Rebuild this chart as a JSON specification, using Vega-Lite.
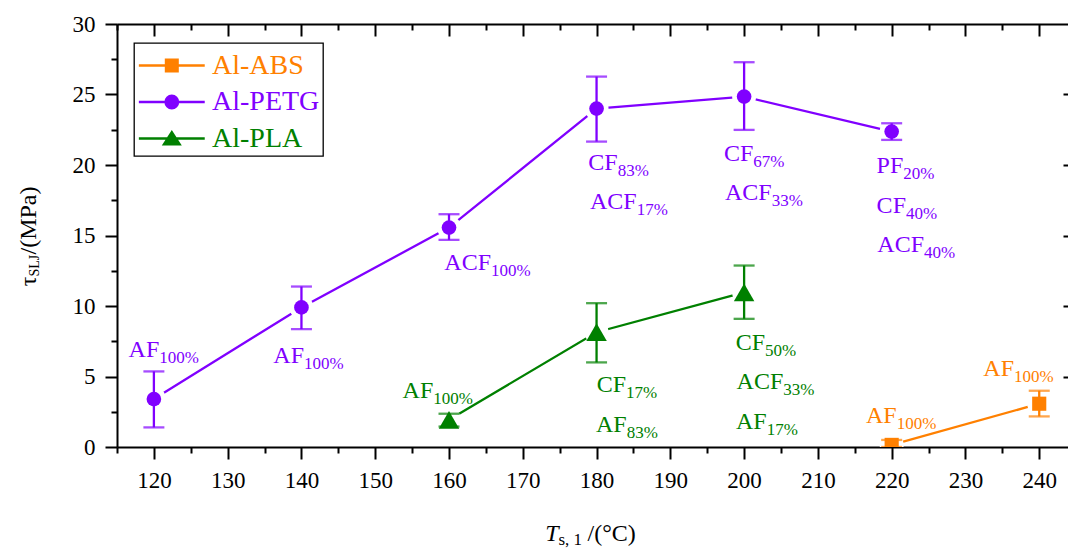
{
  "$schema": "https://vega.github.io/schema/vega-lite/v6.json",
  "width": 951,
  "height": 423,
  "autosize": {"type": "none"},
  "padding": {"left": 117, "top": 24, "right": 0, "bottom": 101},
  "background": "white",
  "config": {
    "view": {"stroke": null},
    "axis": {
      "grid": false,
      "domainColor": "black",
      "domainWidth": 2,
      "tickColor": "black",
      "tickWidth": 2,
      "titleFont": "Liberation Serif",
      "titleFontSize": 24,
      "titleColor": "black",
      "titleFontWeight": "normal",
      "zindex": 1
    }
  },
  "datasets": {
    "pts": [
      {"series": "Al-ABS", "temp": 220, "tau": 0.15, "lo": 0, "hi": 0.5},
      {"series": "Al-ABS", "temp": 240, "tau": 3.07, "lo": 2.17, "hi": 3.99},
      {"series": "Al-PETG", "temp": 120, "tau": 3.4, "lo": 1.39, "hi": 5.36},
      {"series": "Al-PETG", "temp": 140, "tau": 9.9, "lo": 8.36, "hi": 11.38},
      {"series": "Al-PETG", "temp": 160, "tau": 15.56, "lo": 14.69, "hi": 16.51},
      {"series": "Al-PETG", "temp": 180, "tau": 24.0, "lo": 21.66, "hi": 26.27},
      {"series": "Al-PETG", "temp": 200, "tau": 24.85, "lo": 22.49, "hi": 27.29},
      {"series": "Al-PETG", "temp": 220, "tau": 22.37, "lo": 21.78, "hi": 22.96},
      {"series": "Al-PLA", "temp": 160, "tau": 1.93, "lo": 1.45, "hi": 2.36},
      {"series": "Al-PLA", "temp": 180, "tau": 8.14, "lo": 6.0, "hi": 10.2},
      {"series": "Al-PLA", "temp": 200, "tau": 10.97, "lo": 9.09, "hi": 12.87}
    ],
    "labs": [
      {"series": "Al-PETG", "lx": 120.73, "ly": 6.38, "base": "AF", "sub": "100%"},
      {"series": "Al-PETG", "lx": 140.35, "ly": 5.95, "base": "AF", "sub": "100%"},
      {"series": "Al-PETG", "lx": 165.69, "ly": 12.52, "base": "ACF", "sub": "100%"},
      {"series": "Al-PETG", "lx": 182.86, "ly": 19.65, "base": "CF", "sub": "83%"},
      {"series": "Al-PETG", "lx": 185.44, "ly": 16.87, "base": "ACF", "sub": "17%"},
      {"series": "Al-PETG", "lx": 201.24, "ly": 20.29, "base": "CF", "sub": "67%"},
      {"series": "Al-PETG", "lx": 203.74, "ly": 17.53, "base": "ACF", "sub": "33%"},
      {"series": "Al-PETG", "lx": 221.57, "ly": 19.46, "base": "PF", "sub": "20%"},
      {"series": "Al-PETG", "lx": 221.94, "ly": 16.58, "base": "CF", "sub": "40%"},
      {"series": "Al-PETG", "lx": 224.38, "ly": 13.86, "base": "ACF", "sub": "40%"},
      {"series": "Al-PLA", "lx": 157.87, "ly": 3.47, "base": "AF", "sub": "100%"},
      {"series": "Al-PLA", "lx": 183.99, "ly": 3.87, "base": "CF", "sub": "17%"},
      {"series": "Al-PLA", "lx": 184.08, "ly": 1.03, "base": "AF", "sub": "83%"},
      {"series": "Al-PLA", "lx": 202.83, "ly": 6.9, "base": "CF", "sub": "50%"},
      {"series": "Al-PLA", "lx": 205.31, "ly": 4.11, "base": "ACF", "sub": "33%"},
      {"series": "Al-PLA", "lx": 203.06, "ly": 1.28, "base": "AF", "sub": "17%"},
      {"series": "Al-ABS", "lx": 220.68, "ly": 1.7, "base": "AF", "sub": "100%"},
      {"series": "Al-ABS", "lx": 236.58, "ly": 5.05, "base": "AF", "sub": "100%"}
    ]
  },
  "resolve": {
    "scale": {"x": "shared", "y": "shared", "color": "shared"},
    "axis": {"x": "independent", "y": "independent"}
  },
  "layer": [
    {
      "data": {"name": "pts"},
      "mark": {"type": "line", "strokeWidth": 2.3, "clip": true},
      "encoding": {
        "x": {"field": "temp", "type": "quantitative",
          "scale": {"domain": [115, 243.9], "nice": false, "zero": false},
          "axis": {"orient": "bottom", "values": [120, 130, 140, 150, 160, 170, 180, 190, 200, 210, 220, 230, 240],
            "tickSize": 12, "labelPadding": 10, "domain": true,
            "labelFont": "Liberation Serif", "labelFontSize": 23, "labelColor": "black",
            "title": "T", "titleFont": "Liberation Serif", "titleFontStyle": "italic", "titleAlign": "right", "titleBaseline": "alphabetic",
            "titleAngle": 0, "titleX": 441, "titleY": 93}},
        "y": {"field": "tau", "type": "quantitative",
          "scale": {"domain": [0, 30], "nice": false, "zero": false},
          "axis": {"orient": "left", "values": [0, 5, 10, 15, 20, 25, 30],
            "tickSize": 12, "labelPadding": 10, "domain": true,
            "labelFont": "Liberation Serif", "labelFontSize": 23, "labelColor": "black",
            "title": "τ", "titleFont": "Liberation Serif", "titleAngle": -90, "titleAlign": "right", "titleBaseline": "alphabetic",
            "titleX": -82, "titleY": 252}},
        "color": {"field": "series", "type": "nominal",
          "scale": {"domain": ["Al-ABS", "Al-PETG", "Al-PLA"], "range": ["#ff8000", "#8000ff", "#008000"]},
          "legend": {
            "orient": "none", "legendX": 17, "legendY": 19, "title": null,
            "padding": 3, "strokeColor": "black",
            "labelFont": "Liberation Serif", "labelFontSize": 28, "labelOffset": 36, "labelLimit": 0,
            "symbolSize": 1296, "rowPadding": 2.5,
            "encode": {
              "symbols": {"update": {
                "shape": {"signal": "datum.value === 'Al-ABS' ? 'M-0.98,0H2.68M0.525,-0.325H1.175V0.325H0.525Z' : datum.value === 'Al-PETG' ? 'M-0.98,0H2.68M0.5,0A0.35,0.35,0,1,0,1.2,0A0.35,0.35,0,1,0,0.5,0Z' : 'M-0.98,0H2.68M0.41,0.33H1.29L0.85,-0.36Z'"},
                "fill": {"signal": "datum.value === 'Al-ABS' ? '#ff8000' : datum.value === 'Al-PETG' ? '#8000ff' : '#008000'"},
                "stroke": {"signal": "datum.value === 'Al-ABS' ? '#ff8000' : datum.value === 'Al-PETG' ? '#8000ff' : '#008000'"},
                "strokeWidth": {"value": 2.3},
                "opacity": {"value": 1}
              }},
              "labels": {"update": {
                "fill": {"signal": "datum.value === 'Al-ABS' ? '#ff8000' : datum.value === 'Al-PETG' ? '#8000ff' : '#008000'"}
              }},
              "legend": {"update": {"strokeWidth": {"value": 1.3}}}
            }
          }},
        "order": {"field": "temp", "type": "quantitative"}
      }
    },
    {
      "data": {"name": "pts"},
      "mark": {"type": "circle", "fill": "white", "stroke": "white", "strokeWidth": 4, "opacity": 1, "size": 400, "clip": true},
      "encoding": {
        "x": {"field": "temp", "type": "quantitative",
          "axis": {"orient": "top", "values": [120, 130, 140, 150, 160, 170, 180, 190, 200, 210, 220, 230, 240],
            "tickSize": -12, "labels": false, "domain": true, "title": null}},
        "y": {"field": "tau", "type": "quantitative",
          "axis": {"orient": "right", "values": [5, 10, 15, 20, 25],
            "tickSize": -5, "labels": false, "domain": false, "title": null}}
      }
    },
    {
      "data": {"name": "pts"},
      "mark": {"type": "rule", "strokeWidth": 2.3, "clip": true},
      "encoding": {
        "x": {"field": "temp", "type": "quantitative",
          "axis": {"orient": "bottom", "values": [115, 125, 135, 145, 155, 165, 175, 185, 195, 205, 215, 225, 235],
            "tickSize": 6, "labels": false, "domain": false,
            "title": "s, 1", "titleFont": "Liberation Serif", "titleFontSize": 17, "titleAlign": "left", "titleBaseline": "alphabetic",
            "titleAngle": 0, "titleX": 441, "titleY": 97}},
        "y": {"field": "lo", "type": "quantitative",
          "axis": {"orient": "left", "values": [2.5, 7.5, 12.5, 17.5, 22.5, 27.5],
            "tickSize": 6, "labels": false, "domain": false,
            "title": "SLJ", "titleFont": "Liberation Serif", "titleFontSize": 14, "titleAngle": -90, "titleAlign": "left", "titleBaseline": "alphabetic",
            "titleX": -79, "titleY": 252}},
        "y2": {"field": "hi"},
        "color": {"field": "series", "type": "nominal", "legend": null}
      }
    },
    {
      "data": {"name": "pts"},
      "mark": {"type": "tick", "orient": "horizontal", "size": 21, "thickness": 2.3, "clip": true},
      "encoding": {
        "x": {"field": "temp", "type": "quantitative",
          "axis": {"orient": "top", "values": [115, 125, 135, 145, 155, 165, 175, 185, 195, 205, 215, 225, 235],
            "tickSize": -6, "labels": false, "domain": false, "title": null}},
        "y": {"field": "hi", "type": "quantitative",
          "axis": {"orient": "left", "ticks": false, "labels": false, "domain": false,
            "title": "/(MPa)", "titleFont": "Liberation Serif", "titleAngle": -90, "titleAlign": "left", "titleBaseline": "alphabetic",
            "titleX": -82, "titleY": 230}},
        "color": {"field": "series", "type": "nominal", "legend": null}
      }
    },
    {
      "data": {"name": "pts"},
      "mark": {"type": "tick", "orient": "horizontal", "size": 21, "thickness": 2.3, "clip": true},
      "encoding": {
        "x": {"field": "temp", "type": "quantitative",
          "axis": {"orient": "bottom", "ticks": false, "labels": false, "domain": false,
            "title": "/(°C)", "titleFont": "Liberation Serif", "titleAlign": "left", "titleBaseline": "alphabetic",
            "titleAngle": 0, "titleX": 470, "titleY": 93}},
        "y": {"field": "lo", "type": "quantitative", "axis": null},
        "color": {"field": "series", "type": "nominal", "legend": null}
      }
    },
    {
      "data": {"name": "pts"},
      "transform": [{"filter": "datum.series === 'Al-ABS'"}],
      "mark": {"type": "square", "size": 200, "opacity": 1, "clip": true},
      "encoding": {
        "x": {"field": "temp", "type": "quantitative", "axis": null},
        "y": {"field": "tau", "type": "quantitative", "axis": null},
        "color": {"field": "series", "type": "nominal", "legend": null}
      }
    },
    {
      "data": {"name": "pts"},
      "transform": [{"filter": "datum.series === 'Al-PETG'"}],
      "mark": {"type": "circle", "size": 215, "opacity": 1, "clip": true},
      "encoding": {
        "x": {"field": "temp", "type": "quantitative", "axis": null},
        "y": {"field": "tau", "type": "quantitative", "axis": null},
        "color": {"field": "series", "type": "nominal", "legend": null}
      }
    },
    {
      "data": {"name": "pts"},
      "transform": [{"filter": "datum.series === 'Al-PLA'"}],
      "mark": {"type": "point", "shape": "triangle-up", "filled": true, "size": 420, "opacity": 1, "clip": true},
      "encoding": {
        "x": {"field": "temp", "type": "quantitative", "axis": null},
        "y": {"field": "tau", "type": "quantitative", "axis": null},
        "color": {"field": "series", "type": "nominal", "legend": null}
      }
    },
    {
      "data": {"name": "labs"},
      "mark": {"type": "text", "font": "Liberation Serif", "fontSize": 24, "align": "right", "baseline": "alphabetic"},
      "encoding": {
        "x": {"field": "lx", "type": "quantitative", "axis": null},
        "y": {"field": "ly", "type": "quantitative", "axis": null},
        "text": {"field": "base"},
        "color": {"field": "series", "type": "nominal", "legend": null}
      }
    },
    {
      "data": {"name": "labs"},
      "mark": {"type": "text", "font": "Liberation Serif", "fontSize": 17, "align": "left", "baseline": "alphabetic", "dy": 6},
      "encoding": {
        "x": {"field": "lx", "type": "quantitative", "axis": null},
        "y": {"field": "ly", "type": "quantitative", "axis": null},
        "text": {"field": "sub"},
        "color": {"field": "series", "type": "nominal", "legend": null}
      }
    }
  ]
}
